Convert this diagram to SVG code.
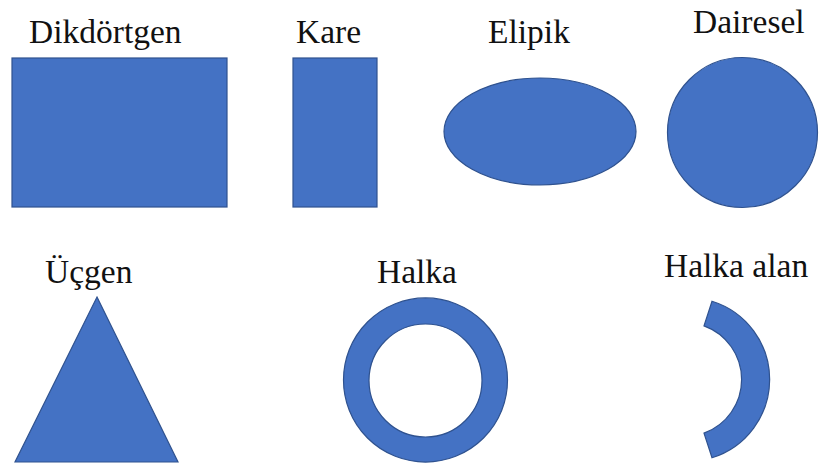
<svg xmlns="http://www.w3.org/2000/svg" width="819" height="466" viewBox="0 0 819 466">
<style>
.shape{fill:#4472C4;stroke:#2F528F;stroke-width:1.2}
</style>
<rect width="819" height="466" fill="#fff"/>
<g id="dikdortgen">
<text x="29" y="43" font-size="33.5" fill="#111" font-family="Liberation Serif">Dikdörtgen</text>
<rect class="shape" x="12" y="58" width="215" height="149"/>
</g>
<g id="kare">
<text x="296" y="43" font-size="33.5" fill="#111" font-family="Liberation Serif">Kare</text>
<rect class="shape" x="293" y="58" width="84" height="149"/>
</g>
<g id="elipik">
<text x="488" y="43" font-size="33.5" fill="#111" font-family="Liberation Serif">Elipik</text>
<ellipse class="shape" cx="540" cy="131.5" rx="96" ry="53.5"/>
</g>
<g id="dairesel">
<text x="693" y="33" font-size="33.5" fill="#111" font-family="Liberation Serif">Dairesel</text>
<circle class="shape" cx="742.5" cy="132.5" r="75"/>
</g>
<g id="ucgen">
<text x="45" y="283" font-size="33.5" fill="#111" font-family="Liberation Serif">Üçgen</text>
<polygon class="shape" points="97,297 178,462 15,462"/>
</g>
<g id="halka">
<text x="377" y="283" font-size="33.5" fill="#111" font-family="Liberation Serif">Halka</text>
<path class="shape" fill-rule="evenodd" d="M343.5,380 a82,82 0 1,0 164,0 a82,82 0 1,0 -164,0 Z M369,380.5 a56.5,56.5 0 1,1 113,0 a56.5,56.5 0 1,1 -113,0 Z"/>
</g>
<g id="halka-alan">
<text x="664" y="277" font-size="33.5" fill="#111" font-family="Liberation Serif">Halka alan</text>
<path class="shape" d="M712,301.2 A82,82 0 0,1 712,457.8 L704,433.1 A57,57 0 0,0 704,325.9 Z"/>
</g>
<g id="connectors"></g>
</svg>
